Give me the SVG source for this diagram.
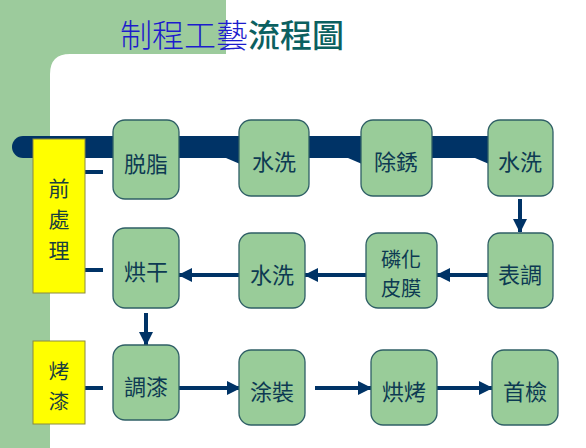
<svg xmlns="http://www.w3.org/2000/svg" width="586" height="448" viewBox="0 0 586 448">
<style>
.bg{fill:#9ccb9c}
.box{fill:#99cc99;stroke:#2f5f66;stroke-width:1.3}
.yb{fill:#ffff00;stroke:#8a8a40;stroke-width:1}
.t{font-family:"Noto Sans CJK TC","Noto Sans CJK SC",sans-serif;font-size:22px;fill:#0d3a52;text-anchor:middle;dominant-baseline:central}
.yt{font-family:"Noto Sans CJK TC","Noto Sans CJK SC",sans-serif;font-size:21px;fill:#1a3f3f;text-anchor:middle;dominant-baseline:central}
.ln{stroke:#003366;stroke-width:4;fill:none}
.ar{stroke:#003366;stroke-width:4;fill:none;marker-end:url(#ah)}
.nv{fill:#003366}
</style>
<defs>
<marker id="ah" markerUnits="userSpaceOnUse" markerWidth="14" markerHeight="14" viewBox="0 0 14 14" refX="13" refY="7" orient="auto">
<path d="M0,0 L14,7 L0,14 Z" fill="#003366"/>
</marker>
</defs>
<g id="background">
<rect x="0" y="0" width="586" height="448" fill="#ffffff"/>
<path class="bg" d="M0,0 H226 V54 H70 Q50,54 50,74 V448 H0 Z"/>
</g>
<g id="title">
<text x="120" y="47" font-family="'Noto Sans CJK TC','Noto Sans CJK SC',sans-serif" font-size="32"><tspan fill="#1c1ccc" font-weight="300">制程工藝</tspan><tspan fill="#0b6060" font-weight="500">流程圖</tspan></text>
</g>
<g id="connectors">
<path class="nv" d="M23,136 H490 V158 H23 A11,11 0 0 1 23,136 Z"/>
<polygon class="nv" points="226,158 240,158 240,164"/>
<polygon class="nv" points="348,158 362,158 362,164"/>
<polygon class="nv" points="475,158 489,158 489,164"/>
<line class="ln" x1="85" y1="172" x2="103" y2="172"/>
<line class="ln" x1="85" y1="270" x2="103" y2="270"/>
<line class="ln" x1="85" y1="388" x2="103" y2="388"/>
<line class="ar" x1="520" y1="199" x2="520" y2="232"/>
<line class="ar" x1="488" y1="275" x2="437" y2="275"/>
<line class="ar" x1="366" y1="275" x2="305" y2="275"/>
<line class="ar" x1="239" y1="275" x2="179" y2="275"/>
<line class="ar" x1="146" y1="313" x2="146" y2="345"/>
<line class="ar" x1="179" y1="388" x2="240" y2="388"/>
<line class="ar" x1="315" y1="388" x2="371" y2="388"/>
<line class="ar" x1="437" y1="388" x2="492" y2="388"/>
</g>
<g id="pre">
<rect class="yb" x="33" y="139" width="52" height="154"/>
<text class="yt"><tspan x="59" y="187">前</tspan><tspan x="59" y="218">處</tspan><tspan x="59" y="249">理</tspan></text>
</g>
<g id="bake">
<rect class="yb" x="33" y="341" width="52" height="83"/>
<text class="yt" style="font-size:20.5px"><tspan x="59" y="370">烤</tspan><tspan x="59" y="400">漆</tspan></text>
</g>
<g id="n1"><rect class="box" x="113" y="120" width="66" height="79" rx="12"/><text class="t" x="146" y="162">脱脂</text></g>
<g id="n2"><rect class="box" x="239" y="120" width="70" height="76" rx="12"/><text class="t" x="274" y="160">水洗</text></g>
<g id="n3"><rect class="box" x="361" y="120" width="71" height="76" rx="12"/><text class="t" x="396" y="160">除銹</text></g>
<g id="n4"><rect class="box" x="488" y="120" width="65" height="76" rx="12"/><text class="t" x="520" y="160">水洗</text></g>
<g id="n5"><rect class="box" x="488" y="233" width="65" height="75" rx="12"/><text class="t" x="520" y="273">表調</text></g>
<g id="n6"><rect class="box" x="366" y="233" width="71" height="75" rx="12"/><text class="t" style="font-size:20px"><tspan x="401" y="258">磷化</tspan><tspan x="401" y="287">皮膜</tspan></text></g>
<g id="n7"><rect class="box" x="239" y="233" width="66" height="75" rx="12"/><text class="t" x="272" y="273">水洗</text></g>
<g id="n8"><rect class="box" x="113" y="228" width="66" height="80" rx="12"/><text class="t" x="146" y="270">烘干</text></g>
<g id="n9"><rect class="box" x="113" y="345" width="66" height="75" rx="12"/><text class="t" x="146" y="385">調漆</text></g>
<g id="n10"><rect class="box" x="239" y="350" width="66" height="75" rx="12"/><text class="t" x="272" y="390">涂裝</text></g>
<g id="n11"><rect class="box" x="371" y="350" width="66" height="75" rx="12"/><text class="t" x="404" y="390">烘烤</text></g>
<g id="n12"><rect class="box" x="492" y="350" width="66" height="75" rx="12"/><text class="t" x="525" y="390">首檢</text></g>
</svg>
